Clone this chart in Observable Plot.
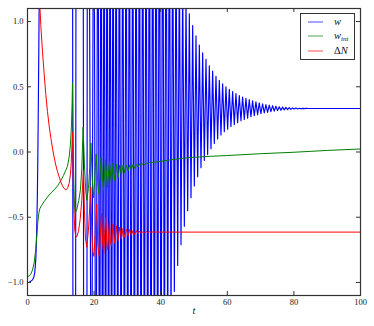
<!DOCTYPE html>
<html>
<head>
<meta charset="utf-8">
<script src="https://cdn.jsdelivr.net/npm/d3@7"></script>
<script src="https://cdn.jsdelivr.net/npm/@observablehq/plot@0.6"></script>
<style>
  body { margin: 0; background: white; }
  #wrap { position: relative; width: 374px; height: 326px; font-family: "Liberation Serif", "DejaVu Serif", serif; }
  #legend { position: absolute; left: 300px; top: 13px; width: 55px; height: 47px; border: 1px solid #333; background: white; box-sizing: border-box; }
  #legend svg { position: absolute; left: 0; top: 0; }
  .lab { position: absolute; left: 33px; font-style: italic; font-size: 10.5px; line-height: 11px; color: #111; }
  .lab sub { font-size: 7px; vertical-align: -2px; }
</style>
</head>
<body>
<div id="wrap"></div>
<script>
const xTicks = [0, 20, 40, 60, 80, 100];
const yTicks = [-1, -0.5, 0, 0.5, 1];
const legendLabels = ["w", "w_int", "ΔN"];
const seriesColors = ["#0000ff", "#008000", "#ff0000"];

// w (blue): [t, value]
const wPts = [[0,-1.0],[0.5,-0.998],[1,-0.99],[1.5,-0.98],[1.9,-0.96],[2.2,-0.92],[2.5,-0.82],[2.75,-0.62],[2.95,-0.35],[3.1,-0.05],[3.25,0.35],[3.4,0.8],[3.55,1.3],[3.7,2.0],[4,4],
[13.45,4],[13.75,-4],[14.35,-4],[14.65,4],[16.65,4],[16.95,-4],[17.75,-4],[18.05,4],
[18.4,3],[19.2,-3],[19.9,3],[20.55,-3],[21.15,3],[21.65,-3],[22.1,3],[22.55,-3],[23.0,2.6],[23.45,-2.6],[23.9,2.5],[24.35,-2.4],[24.8,2.4],[25.25,-2.3],[25.7,2.3],[26.15,-2.2],
[26.6,2.2],[27.1,-2.1],[27.6,2.2],[28.1,-2.1],[28.6,2.2],[29.1,-2.1],[29.6,2.2],[30.1,-2.1],[30.6,2.2],[31.1,-2.1],[31.6,2.2],[32.1,-2.1],[32.6,2.2],[33.1,-2.1],[33.6,2.3],[34.1,-2.1],[34.6,2.3],[35.1,-2.1],[35.6,2.3],[36.1,-2.2],[36.6,2.4],[37.1,-2.2],[37.6,2.5],[38.1,-2.2],[38.6,2.6],[39.1,-2.2],[39.6,2.7],[40.1,-2.2],[40.6,2.7],[41.1,-2.0],[41.6,2.43],[42.1,-1.6],[42.6,2.11],[43.1,-1.3],[43.6,1.83],[44.1,-1.07],[44.6,1.63],[45.1,-0.87],[45.6,1.45],[46.1,-0.71],[46.6,1.30],[47.1,-0.57],[47.6,1.17],[48.1,-0.45],[48.6,1.06],[49.1,-0.35],[49.6,0.97],[50.1,-0.26],[50.6,0.89],[51.1,-0.19],[51.6,0.82],[52.1,-0.12],[52.6,0.76],[53.1,-0.065],[53.6,0.71],[54.1,-0.02],[54.6,0.66],[55.1,0.025],[55.6,0.62],[56.1,0.065],[56.6,0.58],[57.1,0.1],[57.6,0.55],[58.1,0.13],[58.6,0.523],[59.1,0.155],[59.6,0.5],[60.1,0.175],[60.6,0.48],[61.1,0.195],[61.6,0.463],[62.1,0.21],[62.6,0.448],[63.1,0.225],[63.6,0.433],[64.1,0.24],[64.6,0.421],[65.1,0.25],[65.6,0.411],[66.1,0.26],[66.6,0.401],[67.1,0.27],[67.6,0.392],[68.1,0.278],[68.6,0.384],[69.1,0.286],[69.6,0.376],[70.1,0.293],[70.6,0.37],[71.1,0.299],[71.6,0.364],[72.1,0.304],[72.6,0.359],[73.1,0.309],[73.6,0.355],[74.1,0.313],[74.6,0.351],[75.1,0.317],[75.6,0.347],[76.1,0.32],[76.6,0.344],[77.1,0.323],[77.6,0.342],[78.1,0.325],[78.6,0.34],[79.1,0.327],[79.6,0.338],[80.1,0.329],[80.6,0.3365],[81.1,0.330],[81.6,0.3355],[82.1,0.331],[82.6,0.3345],[83.1,0.332],[83.6,0.334],[84.5,0.3333],[100,0.3333]];

// w_int (green)
const wintPts = [[0,-0.957],[0.5,-0.95],[1,-0.935],[1.5,-0.905],[2,-0.85],[2.5,-0.74],[2.8,-0.64],[3.1,-0.54],[3.4,-0.47],[3.7,-0.435],[4.2,-0.41],[5,-0.38],[6,-0.345],[7,-0.315],[8,-0.29],[9,-0.26],[10,-0.22],[10.8,-0.18],[11.5,-0.14],[12,-0.11],[12.5,-0.04],[12.9,0.06],[13.2,0.2],[13.4,0.38],[13.5,0.53],[13.7,0.1],[13.9,-0.22],[14.1,-0.4],[14.3,-0.47],[14.8,-0.44],[15.4,-0.37],[15.9,-0.29],[16.3,-0.13],[16.7,0.19],[17.1,-0.1],[17.5,-0.3],[17.8,-0.37],[18.3,-0.28],[18.7,-0.12],[19.05,0.07],[19.4,-0.18],[19.8,-0.35],[20.2,-0.2],[20.6,-0.015],[21.0,-0.2],[21.4,-0.32],[21.8,-0.17],[22.1,-0.04],[22.8,-0.30],[23.4,-0.06],[24.0,-0.27],[24.6,-0.075],[25.2,-0.245],[25.7,-0.085],[26.2,-0.22],[26.7,-0.095],[27.2,-0.195],[27.7,-0.10],[28.2,-0.175],[28.7,-0.10],[29.2,-0.16],[29.7,-0.10],[30.2,-0.145],[30.7,-0.10],[31.2,-0.135],[31.7,-0.095],[32.2,-0.125],[32.7,-0.093],[33.2,-0.115],[33.7,-0.09],[34.2,-0.105],[34.7,-0.085],[35.2,-0.097],[35.7,-0.083],[36.2,-0.09],[36.7,-0.08],[37.5,-0.08],[40,-0.072],[43,-0.06],[46,-0.05],[49,-0.042],[55,-0.033],[60,-0.027],[70,-0.013],[80,-0.002],[90,0.012],[100,0.023]];

// ΔN (red)
const dNPts = [[2.5,3.0],[3.0,2.1],[3.4,1.5],[3.75,1.1],[4.0,0.97],[4.5,0.77],[5.0,0.6],[5.5,0.44],[6.0,0.31],[6.5,0.2],[7.0,0.11],[7.5,0.03],[8.0,-0.04],[8.5,-0.1],[9.0,-0.15],[9.5,-0.19],[10.0,-0.23],[10.5,-0.26],[11.0,-0.28],[11.5,-0.29],[12.0,-0.28],[12.5,-0.24],[12.9,-0.17],[13.1,-0.1],[13.3,0.02],[13.5,0.15],
[13.7,-0.15],[13.9,-0.42],[14.2,-0.6],[14.5,-0.645],[14.8,-0.65],[15.3,-0.61],[15.8,-0.52],[16.3,-0.37],[16.8,-0.14],
[17.1,-0.45],[17.4,-0.66],[17.8,-0.73],[18.3,-0.6],[18.7,-0.42],[19.0,-0.27],
[19.3,-0.6],[19.6,-0.76],[19.95,-0.80],[20.4,-0.6],[20.8,-0.40],
[21.1,-0.7],[21.5,-0.80],[21.9,-0.62],[22.25,-0.47],
[22.55,-0.7],[22.9,-0.78],[23.2,-0.62],[23.5,-0.5],
[23.8,-0.7],[24.1,-0.75],[24.35,-0.63],[24.6,-0.53],
[24.9,-0.69],[25.2,-0.72],[25.45,-0.63],[25.7,-0.55],
[26.2,-0.70],[26.7,-0.565],[27.2,-0.68],[27.7,-0.575],[28.2,-0.665],[28.7,-0.585],[29.2,-0.655],[29.7,-0.59],[30.2,-0.645],[30.7,-0.595],[31.2,-0.638],[31.7,-0.6],[32.2,-0.632],[32.7,-0.603],[33.2,-0.627],[33.7,-0.606],[34.2,-0.623],[34.7,-0.608],[35.2,-0.62],[35.7,-0.61],[36.2,-0.618],[36.7,-0.611],[37.2,-0.616],[37.7,-0.612],[38.2,-0.615],[38.7,-0.613],[40,-0.614],[100,-0.614]];

const frameW = 374 - 27 - 14, frameH = 326 - 8 - 31;
const tick = 4;
const fc = "#333";

const chart = Plot.plot({
  width: 374, height: 326,
  marginLeft: 27, marginRight: 14, marginTop: 8, marginBottom: 31,
  x: {domain: [0, 100]},
  y: {domain: [-1.1, 1.1]},
  style: {fontFamily: '"Liberation Serif", "DejaVu Serif", serif', fontSize: "8.5px", background: "white", color: "#222"},
  marks: [
    Plot.line(wPts, {x: d => d[0], y: d => d[1], stroke: seriesColors[0], strokeWidth: 1.15, clip: true}),
    Plot.line(wintPts, {x: d => d[0], y: d => d[1], stroke: seriesColors[1], strokeWidth: 1, clip: true}),
    Plot.line(dNPts, {x: d => d[0], y: d => d[1], stroke: seriesColors[2], strokeWidth: 1, clip: true}),
    Plot.tickY(yTicks, {y: d => d, insetRight: frameW - tick, stroke: fc}),
    Plot.tickY(yTicks, {y: d => d, insetLeft: frameW - tick, stroke: fc}),
    Plot.tickX(xTicks, {x: d => d, insetTop: frameH - tick, stroke: fc}),
    Plot.tickX(xTicks, {x: d => d, insetBottom: frameH - tick, stroke: fc}),
    Plot.frame({stroke: fc, strokeWidth: 1.2}),
    Plot.axisX({ticks: xTicks, tickSize: 0, tickPadding: 3, label: null, tickFormat: d => String(d)}),
    Plot.axisY({ticks: yTicks, tickSize: 0, tickPadding: 4, label: null, tickFormat: d3.format(".1f")}),
    Plot.text(["t"], {text: d => d, frameAnchor: "bottom", dy: 18, fontStyle: "italic", fontSize: 10.5})
  ]
});
const wrap = document.getElementById("wrap");
wrap.appendChild(chart);

// legend inside the plot
const leg = document.createElement("div");
leg.id = "legend";
const ns = "http://www.w3.org/2000/svg";
const lsvg = document.createElementNS(ns, "svg");
lsvg.setAttribute("width", 55); lsvg.setAttribute("height", 47);
const rowsY = [8, 22, 37];
legendLabels.forEach((lab, i) => {
  const ln = document.createElementNS(ns, "line");
  ln.setAttribute("x1", 7); ln.setAttribute("x2", 22);
  ln.setAttribute("y1", rowsY[i]); ln.setAttribute("y2", rowsY[i]);
  ln.setAttribute("stroke", seriesColors[i]); ln.setAttribute("stroke-width", 1);
  ln.setAttribute("stroke-opacity", 0.7);
  lsvg.appendChild(ln);
});
leg.appendChild(lsvg);
const htmlLabs = ["w", "w<sub>int</sub>", "Δ<i>N</i>"];
htmlLabs.forEach((h, i) => {
  const s = document.createElement("div");
  s.className = "lab";
  s.style.top = (rowsY[i] - 6) + "px";
  if (i === 2) s.style.fontStyle = "normal";
  s.innerHTML = h;
  leg.appendChild(s);
});
wrap.appendChild(leg);
</script>
</body>
</html>
